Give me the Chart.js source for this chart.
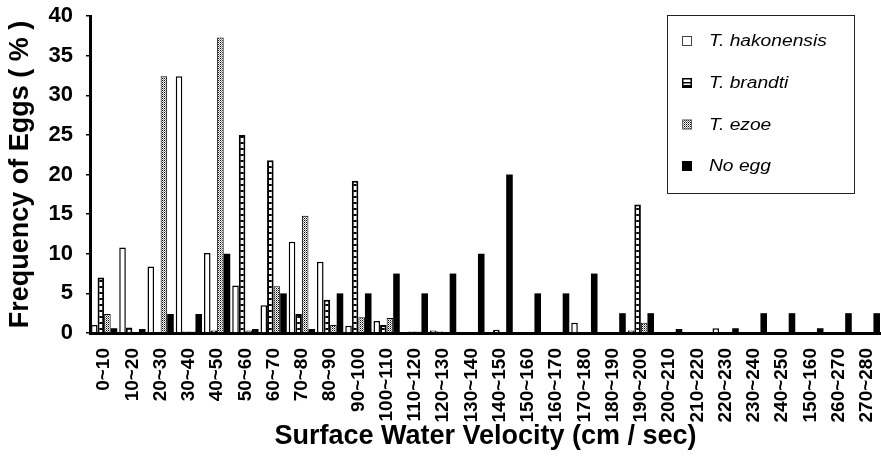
<!DOCTYPE html>
<html>
<head>
<meta charset="utf-8">
<script src="https://cdn.jsdelivr.net/npm/chart.js@4.4.1/dist/chart.umd.min.js"></script>
<style>
    html, body { margin: 0; padding: 0; background: #fff; }
    #wrap { width: 881px; height: 457px; }
</style>
</head>
<body>
<div id="wrap"><canvas id="chart" width="881" height="457"></canvas></div>
<script>
// Velocity classes (cm/sec) - the 27th label is printed "150~160" in the original figure
const velocityClasses = [
    '0~10', '10~20', '20~30', '30~40', '40~50', '50~60', '60~70', '70~80', '80~90', '90~100',
    '100~110', '110~120', '120~130', '130~140', '140~150', '150~160', '160~170', '170~180',
    '180~190', '190~200', '200~210', '210~220', '220~230', '230~240', '240~250', '150~160',
    '260~270', '270~280'
];

// Frequency of eggs (%)
const hakonensis = [1.0, 10.8, 8.4, 32.4, 10.1, 6.0, 3.5, 11.5, 9.0, 0.9, 1.5, 0, 0.3, 0, 0, 0, 0, 1.3, 0, 0.3, 0, 0, 0.6, 0, 0, 0, 0, 0];
const brandti    = [7.0, 0.7, 0, 0.2, 0.3, 25.0, 21.8, 2.4, 4.2, 19.2, 1.0, 0.2, 0.2, 0, 0.4, 0, 0, 0, 0, 16.2, 0, 0, 0, 0, 0, 0, 0, 0];
const ezoe       = [2.4, 0, 32.4, 0.2, 37.3, 0.3, 5.9, 14.8, 1.0, 2.0, 1.9, 0.2, 0, 0, 0, 0, 0, 0, 0, 1.3, 0, 0, 0, 0, 0, 0, 0, 0];
const noEgg      = [0.6, 0.5, 2.4, 2.4, 10.0, 0.5, 5.0, 0.5, 5.0, 5.0, 7.5, 5.0, 7.5, 10.0, 20.0, 5.0, 5.0, 7.5, 2.5, 2.5, 0.5, 0, 0.6, 2.5, 2.5, 0.6, 2.5, 2.5];

const yTicks = [0, 5, 10, 15, 20, 25, 30, 35, 40];

const FONT = "'Liberation Sans', Arial, sans-serif";

function makePattern(w, h, draw) {
    const c = document.createElement('canvas');
    c.width = w; c.height = h;
    const g = c.getContext('2d');
    g.fillStyle = '#fff';
    g.fillRect(0, 0, w, h);
    draw(g);
    return g.createPattern(c, 'repeat');
}

// ladder-like horizontal rungs
const stripeFill = makePattern(6, 6, g => {
    g.fillStyle = '#000';
    g.fillRect(0, 4, 6, 2);
});

// fine stipple
const dotFill = makePattern(2, 2, g => {
    g.fillStyle = '#000';
    g.fillRect(0, 0, 1, 1);
    g.fillStyle = '#888';
    g.fillRect(1, 1, 1, 1);
});

const series = [
    { label: 'T. hakonensis', data: hakonensis, bg: '#fff', bw: 1.5 },
    { label: 'T. brandti', data: brandti, bg: stripeFill, bw: 2 },
    { label: 'T. ezoe', data: ezoe, bg: dotFill, bw: 1 },
    { label: 'No egg', data: noEgg, bg: '#000', bw: 0 }
];

// legend box drawn inside the plot, like the original
const boxLegend = {
    id: 'boxLegend',
    afterDraw(chart) {
        const ctx = chart.ctx;
        ctx.save();
        ctx.strokeStyle = '#222';
        ctx.lineWidth = 1;
        ctx.strokeRect(667.5, 15.5, 187, 178);

        const rows = [42, 84, 125.5, 167];
        series.forEach((s, i) => {
            const y = rows[i];
            const sx = 682, sy = y - 6, sw = 10, sh = 10;
            ctx.fillStyle = s.bg;
            ctx.fillRect(sx, sy, sw, sh);
            if (i === 0) {
                ctx.strokeStyle = '#444';
                ctx.lineWidth = 1;
                ctx.strokeRect(sx + 0.5, sy + 0.5, sw - 1, sh - 1);
            } else if (i === 1) {
                ctx.fillStyle = '#fff';
                ctx.fillRect(sx, sy, sw, sh);
                ctx.strokeStyle = '#000';
                ctx.lineWidth = 1.5;
                ctx.strokeRect(sx + 0.75, sy + 0.75, sw - 1.5, sh - 1.5);
                ctx.fillStyle = '#000';
                ctx.fillRect(sx, sy + 4, sw, 1.5);
                ctx.fillRect(sx, sy + sh - 3, sw, 3);
            } else if (i === 2) {
                ctx.strokeStyle = '#666';
                ctx.lineWidth = 1;
                ctx.strokeRect(sx + 0.5, sy + 0.5, sw - 1, sh - 1);
            }

            ctx.fillStyle = '#000';
            ctx.font = 'italic 16px ' + FONT;
            ctx.textBaseline = 'middle';
            ctx.textAlign = 'left';
            ctx.save();
            ctx.translate(709, y);
            ctx.scale(1.2, 1);
            ctx.fillText(s.label, 0, 0);
            ctx.restore();
        });
        ctx.restore();
    }
};

new Chart(document.getElementById('chart'), {
    type: 'bar',
    data: {
        labels: velocityClasses,
        datasets: series.map(s => ({
            label: s.label,
            data: s.data,
            backgroundColor: s.bg,
            borderColor: '#000',
            borderWidth: s.bw,
            categoryPercentage: 0.93,
            barPercentage: 1
        }))
    },
    options: {
        responsive: false,
        animation: false,
        devicePixelRatio: 1,
        layout: { padding: { top: 16, right: 0, left: 0, bottom: 0 } },
        plugins: {
            legend: { display: false },
            tooltip: { enabled: false }
        },
        scales: {
            x: {
                grid: { display: false, drawTicks: false },
                border: { display: true, color: '#000', width: 3 },
                ticks: {
                    autoSkip: false,
                    minRotation: 90,
                    maxRotation: 90,
                    padding: 15,
                    color: '#000',
                    font: { family: FONT, size: 19, weight: 'bold' }
                },
                title: {
                    display: true,
                    text: 'Surface Water Velocity (cm / sec)',
                    color: '#000',
                    font: { family: FONT, size: 27, weight: 'bold' },
                    padding: { top: 4, bottom: 4 }
                },
                afterFit: scale => {
                    scale.height = 124;
                    scale.paddingLeft = 0;
                    scale.paddingRight = 0;
                }
            },
            y: {
                min: 0,
                max: 40,
                afterBuildTicks: scale => { scale.ticks = yTicks.map(v => ({ value: v })); },
                grid: { drawOnChartArea: false, drawTicks: true, tickLength: 4, color: '#000', lineWidth: 1.5 },
                border: { display: true, color: '#000', width: 3 },
                ticks: {
                    padding: 13,
                    color: '#000',
                    font: { family: FONT, size: 22, weight: 'bold' }
                },
                title: {
                    display: true,
                    text: 'Frequency of Eggs ( % )',
                    color: '#000',
                    font: { family: FONT, size: 27, weight: 'bold' },
                    padding: { top: 4, bottom: 4 }
                },
                afterFit: scale => {
                    scale.width = 90;
                    scale.paddingTop = 0;
                    scale.paddingBottom = 0;
                }
            }
        }
    },
    plugins: [boxLegend]
});
</script>
</body>
</html>
